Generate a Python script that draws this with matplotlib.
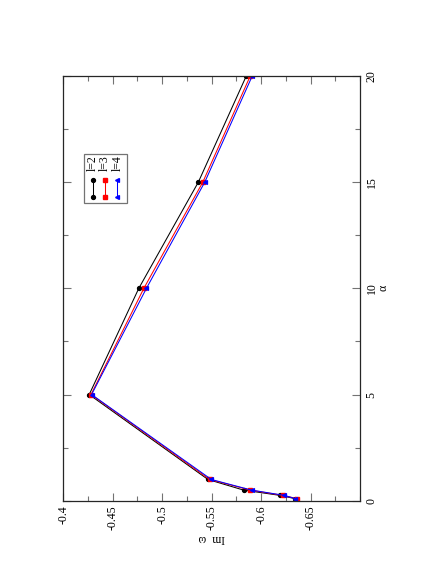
import numpy as np
import matplotlib
matplotlib.use("Agg")
import matplotlib.pyplot as plt
from matplotlib.patches import Rectangle
from matplotlib.lines import Line2D
from matplotlib.ticker import FixedLocator, MultipleLocator

plt.rcParams['font.family'] = ['Liberation Serif', 'DejaVu Serif']
plt.rcParams['axes.unicode_minus'] = False

alpha = [0.1, 0.25, 0.5, 1, 5, 10, 15, 20]
im_l2 = [-0.634, -0.6193, -0.5823, -0.5463, -0.4262, -0.4763, -0.5365, -0.585]
im_l3 = [-0.636, -0.6219, -0.589, -0.548, -0.428, -0.4814, -0.541, -0.589]
im_l4 = [-0.6347, -0.6236, -0.5903, -0.5497, -0.4286, -0.484, -0.543, -0.591]

series_labels = ['l=2', 'l=3', 'l=4']
series_colors = ['black', 'red', 'blue']
series_markers = ['o', 's', '<']

im_ticks = [-0.4, -0.45, -0.5, -0.55, -0.6, -0.65]
im_ticklabels = ['-0.4', '-0.45', '-0.5', '-0.55', '-0.6', '-0.65']
alpha_ticks = [0, 5, 10, 15, 20]
alpha_ticklabels = ['0', '5', '10', '15', '20']

fig = plt.figure(figsize=(4.36, 5.64), dpi=100)
ax = fig.add_axes([0.1452, 0.1122, 0.6805, 0.753])

series = [im_l2, im_l3, im_l4]
for ys, c, m in zip(series, series_colors, series_markers):
    ax.plot(ys, alpha, color=c, lw=0.75, marker=m, ms=2.8, mec=c, mfc=c)

ax.set_xlim(-0.4, -0.7)
ax.set_ylim(0, 20)

ax.xaxis.set_major_locator(FixedLocator(im_ticks))
ax.set_xticklabels(im_ticklabels, rotation=90, va='top', ha='center')
ax.xaxis.set_minor_locator(MultipleLocator(0.025))
ax.yaxis.set_major_locator(FixedLocator(alpha_ticks))
ax.set_yticklabels(alpha_ticklabels, rotation=90, va='center', ha='left')
ax.yaxis.set_minor_locator(MultipleLocator(2.5))

ax.tick_params(which='both', direction='in', top=True, bottom=True,
               left=True, right=True, labelleft=False, labelright=True,
               color='0.45', width=0.8, labelsize=8.5)
ax.tick_params(which='major', length=6)
ax.tick_params(which='minor', length=3.5)
ax.tick_params(axis='x', pad=3)
ax.tick_params(axis='y', pad=4)

for s in ax.spines.values():
    s.set_color('0.15')
    s.set_linewidth(0.9)

ax.set_xlabel('Im  ω', rotation=180, fontsize=8.5, labelpad=2)
ax.yaxis.set_label_position('right')
ax.set_ylabel('α', rotation=90, fontsize=8.5, labelpad=0)

# legend drawn by hand, rotated with the page
tr = ax.transAxes
ax.add_patch(Rectangle((0.0698, 0.7009), 0.1449, 0.1154, transform=tr,
                       fill=False, ec='0.45', lw=0.9, zorder=5))
cols = [0.0991, 0.1405, 0.182]
for x, lab, c, m in zip(cols, series_labels, series_colors, series_markers):
    ax.text(x, 0.7958, lab, rotation=90, ha='center', va='center',
            fontsize=8.5, transform=tr)
    ax.add_line(Line2D([x, x], [0.7146, 0.7547], transform=tr, color=c,
                       lw=0.75, marker=m, ms=2.8, mec=c, mfc=c))

fig.savefig('out.png', dpi=100)
